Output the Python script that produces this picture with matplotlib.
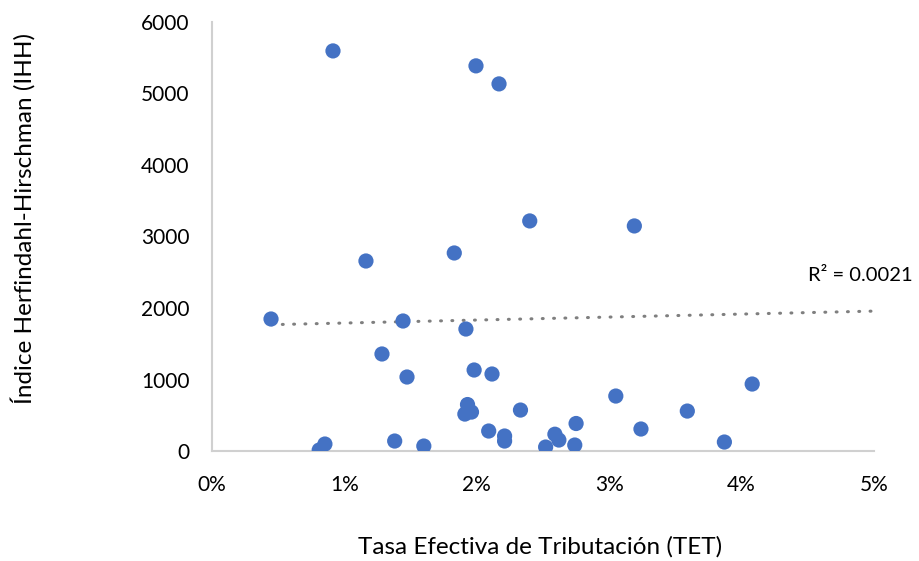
import numpy as np
import matplotlib
matplotlib.use("Agg")
import matplotlib.pyplot as plt
from matplotlib.ticker import FuncFormatter

plt.rcParams['font.family'] = ['Lato', 'DejaVu Sans']

tet = [0.914, 1.994, 2.168, 2.40, 3.19, 1.163, 1.83, 0.446, 1.443, 1.918,
       1.284, 1.473, 1.98, 2.115, 4.08, 3.05, 1.93, 1.91, 1.96, 2.33,
       2.75, 3.59, 3.24, 2.09, 2.21, 2.21, 2.59, 2.62, 2.52, 2.74,
       3.87, 1.38, 1.60, 0.853, 0.81]
ihh = [5594, 5385, 5133, 3217, 3147, 2657, 2769, 1846, 1818, 1706,
       1357, 1035, 1133, 1077, 937, 769, 650, 517, 545, 573,
       385, 559, 308, 280, 210, 140, 235, 154, 56, 84,
       126, 140, 70, 98, 14]
# linear trend line as displayed (slope per unit of rate, intercept)
trend_slope = 4170.0
trend_intercept = 1748.0
r2_label = 'R² = 0.0021'

x = np.array(tet) / 100.0
y = np.array(ihh, dtype=float)

fig = plt.figure(figsize=(9.2, 5.61), dpi=100)
ax = fig.add_axes([0.2304, 0.196, 0.95 - 0.2304, 0.961 - 0.196])

ax.scatter(x, y, s=120, color='#4472C4', zorder=3, edgecolors='none')

xt = np.array([x.min(), 0.05])
ax.plot(xt, trend_slope * xt + trend_intercept, color='#7F7F7F', lw=2.2,
        linestyle=(0, (0.3, 3.4)), dash_capstyle='round', zorder=2)
ax.text(0.0450, 2450, r2_label, fontsize=14.5, va='center', ha='left',
        clip_on=False)

ax.set_xlim(0, 0.05)
ax.set_ylim(0, 6000)
ax.set_xticks([0, 0.01, 0.02, 0.03, 0.04, 0.05])
ax.xaxis.set_major_formatter(FuncFormatter(lambda v, p: f"{v*100:.0f}%"))
ax.set_yticks([0, 1000, 2000, 3000, 4000, 5000, 6000])
ax.tick_params(length=0, labelsize=15, colors='#000000')
ax.tick_params(axis='y', pad=16)
ax.tick_params(axis='x', pad=17)

for s in ['top', 'right']:
    ax.spines[s].set_visible(False)
for s in ['left', 'bottom']:
    ax.spines[s].set_color('#D0D0D0')
    ax.spines[s].set_linewidth(1.5)

fig.text(0.0250, 1 - 218 / 561, 'Índice Herfindahl-Hirschman (IHH)',
         rotation=90, va='center', ha='center', fontsize=17.5)
fig.text(540 / 920, 1 - 547 / 561, 'Tasa Efectiva de Tributación (TET)',
         va='center', ha='center', fontsize=17.5)

fig.savefig('out.png', dpi=100)
